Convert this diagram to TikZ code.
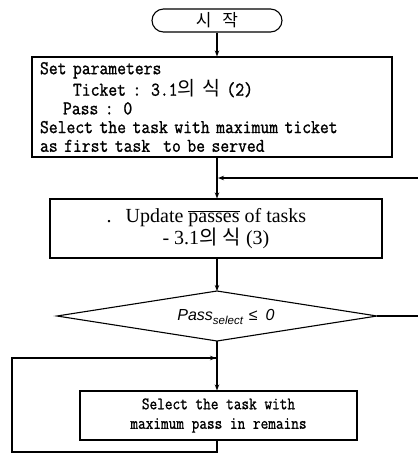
\documentclass[tikz,border=0pt]{standalone}
\usepackage{fontspec}
\setmainfont{Liberation Serif}
\newfontfamily\monof[FakeStretch=0.88,FakeBold=1.2]{Latin Modern Mono}
\newfontfamily\monoS[FakeStretch=0.85,FakeBold=1.0]{Latin Modern Mono}
\newfontfamily\sansf{Liberation Sans}
\newfontfamily\kr{Noto Sans CJK KR}
\newcommand{\K}[1]{{\kr #1}}
\usetikzlibrary{shapes.geometric,arrows.meta}
\tikzset{
  flow/.style={line width=1.1pt},
  arr/.style={flow,-{Stealth[length=6pt,width=4.5pt]}},
  boxst/.style={draw,line width=1.1pt,rectangle,inner sep=0pt},
}
\begin{document}
\begin{tikzpicture}[x=1pt,y=-1pt]
\useasboundingbox (0,0) rectangle (418,459);
% start terminal
\node[boxst,rounded corners=11.5pt,minimum width=130pt,minimum height=23pt,
      font={\fontsize{17}{17}\kr}] (start) at (217,20.5)
  {시\hspace{11pt}작};
% box1
\node[boxst,minimum width=360pt,minimum height=100pt,align=left,text width=344pt,inner xsep=8pt,
      font={\fontsize{19.5}{18.7}\monof}] (box1) at (212,107)
  {Set parameters\\
   \hspace*{33pt}Ticket : 3.1\K{의} \K{식} (2)\\
   \hspace*{23pt}Pass : 0\\
   Select the task with maximum ticket\\
   as first task\ \ to be served};
% update box
\node[boxst,minimum width=332pt,minimum height=59pt,align=center,
      font={\fontsize{20}{22}\selectfont}] (upd) at (216,228.5)
  {\llap{.\hspace{14pt}}Update \ensuremath{\overline{\hbox{passes}}} of tasks\\
   - 3.1\K{의} \K{식} (3)};
% diamond
\coordinate (dtop) at (217,291);
\coordinate (dbot) at (217,341);
\coordinate (dleft) at (57,316);
\coordinate (dright) at (377,316);
\draw[flow] (dtop) -- (dright) -- (dbot) -- (dleft) -- cycle;
\node[font={\fontsize{16}{16}\sansf}] (dtext) at (226,317)
  {\itshape Pass\raisebox{-3.5pt}{\fontsize{11.5}{11.5}\selectfont select}\hspace{6pt}\upshape ≤\hspace{8pt}\itshape 0};
% box3
\node[boxst,minimum width=277pt,minimum height=49pt,align=center,
      font={\fontsize{17.5}{19.5}\monoS}] (box3) at (218.5,415.5)
  {Select the task with\\ maximum pass in remains};
% connectors
\coordinate (fb) at (418,178);
\coordinate (rend) at (418,316);
\coordinate (lpb) at (217,452);
\coordinate (lpbl) at (12,452);
\coordinate (lptl) at (12,358);
\coordinate (lpj) at (217,358);
\draw[arr] (start.south) -- (start.south |- box1.north);
\draw[arr] (start.south |- box1.south) -- (start.south |- upd.north);
\draw[arr] (fb) -- ([xshift=1pt]start.south |- fb);
\draw[arr] (start.south |- upd.south) -- (dtop);
\draw[arr] (dbot) -- (dbot |- box3.north);
\draw[flow] (dright) -- (rend);
\draw[flow] (dbot |- box3.south) -- (lpb) -- (lpbl) -- (lptl) -- (lpj);
\draw[arr] (lptl) -- ([xshift=-1pt]lpj);
\end{tikzpicture}
\end{document}
